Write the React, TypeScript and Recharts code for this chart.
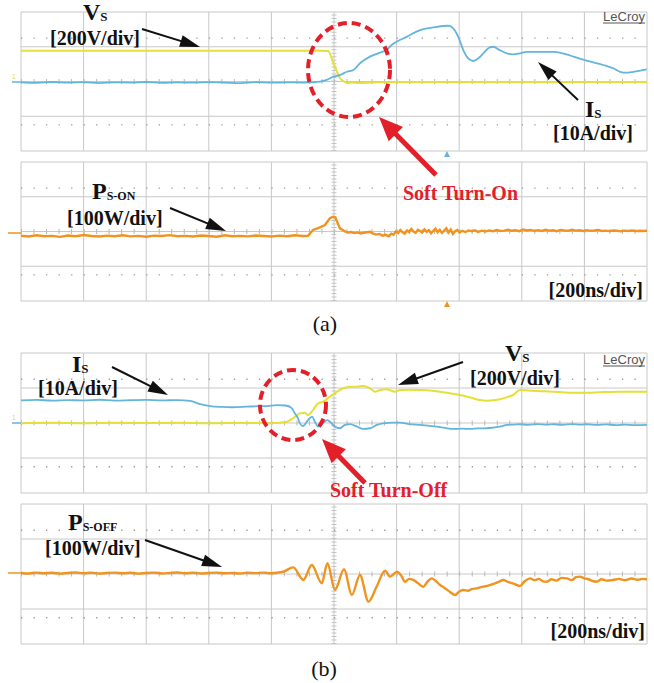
import React from 'react';
import { LineChart, Line, XAxis, YAxis, CartesianGrid, ReferenceLine } from 'recharts';

type Pt = [number, number]; // [time ns, value]

// grid divisions: 200 ns/div, 200 V/div, 10 A/div, 100 W/div
const TIME_DIVS = [0, 200, 400, 600, 800, 1000, 1200, 1400, 1600, 1800, 2000];
const VOLT_DIVS = [-800, -600, -400, -200, 0, 200, 400, 600, 800];
const AMP_DIVS = [-40, -30, -20, -10, 0, 10, 20, 30, 40];
const POWER_DIVS = [-400, -300, -200, -100, 0, 100, 200, 300, 400];

// (a) soft turn-on
const onVs: Pt[] = [
  [0, 354], [150, 353], [300, 355], [450, 354], [600, 353], [750, 355], [900, 354], [960, 354],
  [981, 350], [997, 224], [1010, 109], [1019, 40], [1030, 5], [1042, -17], [1060, -12], [1083, -17],
  [1150, -9], [1250, -6], [1400, -8], [1550, -5], [1700, -6], [1850, -7], [2000, -5],
];
const onIs: Pt[] = [
  [0, -0.5], [50, -0.8], [100, -0.3], [150, -0.7], [200, -0.4], [250, -0.9], [300, -0.5], [350, -0.6],
  [400, -0.3], [450, -0.8], [500, -0.5], [550, -0.7], [600, -0.4], [650, -0.6], [700, -0.9], [750, -0.4],
  [800, -0.7], [850, -0.5], [900, -0.6], [955, -0.1], [977, 0.9], [998, 2.8], [1019, 3.7], [1041, 5.6],
  [1062, 6.6], [1083, 10.5], [1115, 14.3], [1147, 16.6], [1168, 18.1], [1184, 21.0], [1200, 22.9],
  [1232, 25.7], [1275, 29.6], [1317, 31.1], [1365, 32.1], [1381, 30.6], [1397, 25.7], [1413, 18.1],
  [1429, 13.3], [1445, 11.8], [1461, 13.3], [1477, 16.2], [1498, 19.7], [1509, 20.0], [1525, 18.5],
  [1552, 16.2], [1573, 15.6], [1594, 16.2], [1616, 17.1], [1658, 17.1], [1701, 17.1], [1743, 15.6],
  [1765, 14.3], [1807, 12.0], [1860, 9.5], [1892, 7.6], [1914, 5.6], [1935, 5.1], [1956, 5.6],
  [1978, 6.2], [1999, 7.0],
];
const onPs: Pt[] = [
  [0, -24], [25, -29], [50, -22], [75, -27], [100, -25], [125, -31], [150, -23], [175, -27], [200, -20],
  [225, -26], [250, -29], [275, -24], [300, -27], [325, -22], [350, -28], [375, -25], [400, -30],
  [425, -24], [450, -26], [475, -21], [500, -27], [525, -25], [550, -29], [575, -23], [600, -26],
  [625, -30], [650, -22], [675, -27], [700, -25], [725, -28], [750, -23], [775, -26], [800, -29],
  [825, -24], [850, -27], [875, -22], [900, -26], [917, -25], [933, 9], [955, 24], [971, 37], [987, 76],
  [997, 85], [1004, 82], [1010, 56], [1019, 18], [1035, 0], [1045, -6], [1055, -3], [1065, -9],
  [1075, -5], [1085, -11], [1095, -7], [1105, -4], [1115, -2], [1125, -12], [1135, -18], [1145, -14],
  [1155, -24], [1165, -19], [1175, -27], [1183, -12], [1190, -18], [1198, 2], [1205, -9], [1212, 8],
  [1219, -4], [1226, -12], [1233, 6], [1240, -3], [1247, 15], [1254, 0], [1261, -8], [1268, 10],
  [1275, 3], [1282, -6], [1289, 12], [1296, -2], [1303, 7], [1310, -10], [1317, 4], [1324, 16],
  [1331, -4], [1338, 9], [1345, -8], [1352, 5], [1359, 18], [1366, -6], [1373, 11], [1380, -14],
  [1387, 2], [1394, 9], [1401, -5], [1410, 4], [1420, -3], [1430, 6], [1440, 1], [1450, 7], [1460, -2],
  [1472, 5], [1484, 0], [1496, 6], [1508, 2], [1520, 8], [1532, 3], [1544, 5], [1556, 10], [1568, 4],
  [1580, 7], [1592, 2], [1604, 12], [1616, 6], [1628, 9], [1640, 4], [1652, 8], [1664, 3], [1676, 10],
  [1688, 5], [1700, 7], [1712, 2], [1724, 9], [1736, 6], [1748, 4], [1760, 10], [1772, 5], [1784, 7],
  [1796, 3], [1808, 8], [1820, 4], [1832, 6], [1844, 9], [1856, 3], [1868, 5], [1880, 2], [1892, 6],
  [1904, 4], [1916, 1], [1928, 5], [1940, 3], [1952, 6], [1964, 2], [1976, 4], [1988, 3], [2000, 4],
];

// (b) soft turn-off
const offVs: Pt[] = [
  [0, -3], [100, 2], [200, -2], [300, 3], [400, -1], [500, 2], [600, -3], [700, 1], [800, -2], [827, 3],
  [850, 15], [869, 54], [891, 110], [907, 118], [917, 91], [933, 149], [949, 225], [965, 243],
  [987, 301], [1010, 358], [1029, 397], [1051, 415], [1074, 415], [1093, 423], [1115, 397],
  [1131, 358], [1147, 377], [1169, 385], [1195, 358], [1211, 377], [1240, 380], [1275, 377],
  [1305, 372], [1339, 358], [1370, 340], [1403, 320], [1444, 283], [1465, 262], [1489, 255],
  [1510, 260], [1530, 271], [1550, 292], [1572, 320], [1594, 377], [1620, 372], [1649, 366],
  [1675, 362], [1700, 358], [1730, 352], [1764, 346], [1808, 346], [1850, 352], [1914, 358],
  [1960, 356], [2000, 358],
];
const offIs: Pt[] = [
  [0, 12.9], [50, 13.2], [100, 12.8], [150, 13.1], [200, 12.9], [250, 13.3], [300, 12.8], [350, 13.0],
  [400, 13.2], [450, 12.9], [500, 13.1], [540, 12.7], [572, 10.8], [604, 9.7], [640, 9.2], [677, 9.0],
  [720, 9.3], [760, 9.6], [786, 9.7], [818, 10.2], [845, 10.0], [865, 8.5], [875, 5.5], [885, 2.7],
  [891, -0.2], [901, -1.7], [917, 1.7], [930, 3.6], [939, 0.7], [949, -2.1], [965, 0], [978, 1.7],
  [987, 0.7], [1003, -2.1], [1019, -3.0], [1035, -1.1], [1051, -0.6], [1074, -2.1], [1093, -3.4],
  [1115, -3.0], [1137, -1.1], [1157, -0.2], [1189, 0.2], [1211, 0.2], [1240, -0.6], [1275, -1.1],
  [1300, -1.5], [1328, -2.1], [1355, -2.8], [1380, -3.4], [1410, -3.2], [1435, -3.4], [1460, -3.1],
  [1489, -3.0], [1510, -2.6], [1530, -2.1], [1553, -1.1], [1575, -0.9], [1594, -0.7], [1620, -1.0],
  [1650, -0.6], [1680, -0.9], [1700, -0.7], [1730, -1.0], [1760, -0.6], [1790, -0.9], [1808, -0.7],
  [1840, -1.1], [1870, -0.8], [1900, -1.2], [1930, -0.9], [1960, -1.2], [2000, -1.1],
];
const offPs: Pt[] = [
  [0, 6], [25, 3], [50, 8], [75, 4], [100, 7], [125, 2], [150, 6], [175, 9], [200, 4], [225, 7], [250, 3],
  [275, 6], [300, 8], [325, 4], [350, 7], [375, 2], [400, 6], [425, 8], [450, 3], [475, 6], [500, 9],
  [525, 4], [550, 7], [575, 3], [600, 6], [625, 8], [650, 4], [675, 6], [700, 3], [725, 7], [750, 5],
  [775, 8], [800, 4], [812, 6], [838, 13], [870, 38], [902, -34], [929, 51], [961, -53], [979, 61],
  [1003, -91], [1032, 27], [1057, -120], [1083, -6], [1110, -158], [1136, -73], [1163, 19], [1179, -15],
  [1202, 13], [1215, -10], [1227, -44], [1240, -28], [1253, -34], [1268, -52], [1285, -73], [1298, -45],
  [1312, -25], [1325, -40], [1339, -63], [1352, -78], [1365, -95], [1387, -120], [1400, -100],
  [1413, -91], [1428, -96], [1442, -85], [1456, -82], [1470, -75], [1484, -70], [1498, -63], [1512, -55],
  [1526, -45], [1541, -34], [1555, -45], [1568, -52], [1580, -60], [1594, -69], [1610, -40], [1626, -25],
  [1640, -35], [1655, -28], [1668, -42], [1680, -44], [1695, -30], [1710, -38], [1727, -22], [1744, -25],
  [1760, -35], [1773, -18], [1786, -15], [1800, -25], [1813, -30], [1826, -40], [1839, -44], [1855, -30],
  [1870, -38], [1892, -34], [1910, -28], [1930, -36], [1950, -26], [1970, -33], [1985, -28], [2000, -30],
];

const YELLOW = '#e4e036';
const CYAN = '#63b5dc';
const ORANGE = '#ef9420';
const RED = '#e3202a';
const GRID = '#c8c8c8';
const SERIF = "'Liberation Serif', 'Times New Roman', serif";

const toRows = (pts: Pt[]) => pts.map(([t, y]) => ({ t, y }));

interface Trace { id: string; pts: Pt[]; color: string; axis: string; width: number; curve?: 'linear' | 'monotone' }
interface Axis { id: string; ticks: number[] }

const ScopePanel: React.FC<{ top: number; height: number; axes: Axis[]; traces: Trace[] }> = ({ top, height, axes, traces }) => {
  const grid = axes[0];
  const span = grid.ticks[grid.ticks.length - 1];
  const divPx = (height - 2) / 8;
  return (
    <div style={{ position: 'absolute', left: 20, top, width: 628, height }}>
      <LineChart width={628} height={height} margin={{ top: 1, right: 1, bottom: 1, left: 1 }}>
        <XAxis dataKey="t" type="number" domain={[0, 2000]} ticks={TIME_DIVS} hide allowDataOverflow />
        {axes.map(a => (
          <YAxis key={a.id} yAxisId={a.id} type="number" domain={[a.ticks[0], a.ticks[a.ticks.length - 1]]}
            ticks={a.ticks} hide allowDataOverflow />
        ))}
        <CartesianGrid yAxisId={grid.id} stroke={GRID} strokeWidth={1} />
        {/* dotted rows and centre-line minor ticks */}
        <ReferenceLine yAxisId={grid.id} y={span * 0.625} stroke="#999" strokeWidth={1.3} strokeDasharray="1.3 11.22" />
        <ReferenceLine yAxisId={grid.id} y={-span * 0.625} stroke="#999" strokeWidth={1.3} strokeDasharray="1.3 11.22" />
        <ReferenceLine yAxisId={grid.id} y={0} stroke="#b8b8b8" strokeWidth={5} strokeDasharray="1 11.52" />
        <ReferenceLine yAxisId={grid.id} x={1000} stroke="#c4c4c4" strokeWidth={5} strokeDasharray={`1 ${divPx / 5 - 1}`} />
        {traces.map(tr => (
          <Line key={tr.id} data={toRows(tr.pts)} dataKey="y" yAxisId={tr.axis} type={tr.curve ?? 'monotone'}
            stroke={tr.color} strokeWidth={tr.width} dot={false} activeDot={false} isAnimationActive={false} />
        ))}
      </LineChart>
    </div>
  );
};

const Arrow: React.FC<{ x1: number; y1: number; x2: number; y2: number; color: string; w: number; head: number; headW: number }> =
  ({ x1, y1, x2, y2, color, w, head, headW }) => {
    const a = Math.atan2(y2 - y1, x2 - x1);
    const bx = x2 - head * Math.cos(a);
    const by = y2 - head * Math.sin(a);
    const px = -Math.sin(a) * headW / 2;
    const py = Math.cos(a) * headW / 2;
    return (
      <g>
        <line x1={x1} y1={y1} x2={bx + Math.cos(a) * 2} y2={by + Math.sin(a) * 2} stroke={color} strokeWidth={w} />
        <polygon points={`${x2},${y2} ${bx + px},${by + py} ${bx - px},${by - py}`} fill={color} />
      </g>
    );
  };

const Sub: React.FC<{ x: number; y: number; main: string; sub: string; subSize?: number }> = ({ x, y, main, sub, subSize = 13 }) => (
  <text x={x} y={y} fontFamily={SERIF} fontWeight="bold" fontSize={24} fill="#111">
    {main}<tspan fontSize={subSize} dy={1}>{sub}</tspan>
  </text>
);

const Label: React.FC<{ x: number; y: number; text: string; anchor?: 'start' | 'end' | 'middle' }> = ({ x, y, text, anchor = 'start' }) => (
  <text x={x} y={y} fontFamily={SERIF} fontWeight="bold" fontSize={20} fill="#111" textAnchor={anchor}>{text}</text>
);

const LeCroy: React.FC<{ y: number }> = ({ y }) => (
  <g>
    <text x={645} y={y} fontFamily="'Liberation Sans', Arial, sans-serif" fontSize={13} fill="#555" textAnchor="end">LeCroy</text>
    <line x1={603} y1={y + 2} x2={645} y2={y + 2} stroke="#555" strokeWidth={1} />
  </g>
);

const Annotations: React.FC = () => (
  <svg width={654} height={683} style={{ position: 'absolute', left: 0, top: 0, pointerEvents: 'none' }}>
    {/* channel ground markers */}
    <line x1={12} y1={82} x2={21} y2={82} stroke={CYAN} strokeWidth={1.5} />
    <text x={12} y={79} fontSize={7} fill={YELLOW} fontFamily="sans-serif">1</text>
    <line x1={8} y1={233} x2={21} y2={233} stroke={ORANGE} strokeWidth={1.5} />
    <line x1={12} y1={423} x2={21} y2={423} stroke={CYAN} strokeWidth={1.5} />
    <text x={12} y={420} fontSize={7} fill={YELLOW} fontFamily="sans-serif">1</text>
    <line x1={8} y1={573} x2={21} y2={573} stroke={ORANGE} strokeWidth={1.5} />
    <polygon points="444,157 447,151 450,157" fill={CYAN} />
    <polygon points="444,307 447,301 450,307" fill={ORANGE} />

    {/* (a) */}
    <Sub x={83} y={20} main="V" sub="S" />
    <Label x={50} y={45} text="[200V/div]" />
    <Arrow x1={142} y1={29} x2={200} y2={47} color="#111" w={2} head={20} headW={12} />
    <LeCroy y={21} />
    <Sub x={585} y={117} main="I" sub="S" />
    <Label x={553} y={140} text="[10A/div]" />
    <Arrow x1={578} y1={100} x2={538} y2={62} color="#111" w={2} head={20} headW={12} />
    <ellipse cx={349} cy={70} rx={41} ry={47} fill="none" stroke={RED} strokeWidth={4} strokeDasharray="9 5" />
    <Arrow x1={436} y1={175} x2={379} y2={117} color={RED} w={5} head={24} headW={20} />
    <text x={403} y={200} fontFamily={SERIF} fontWeight="bold" fontSize={20} fill={RED}>Soft Turn-On</text>
    <Sub x={92} y={199} main="P" sub="S-ON" subSize={12} />
    <Label x={67} y={225} text="[100W/div]" />
    <Arrow x1={170} y1={208} x2={226} y2={231} color="#111" w={2} head={20} headW={12} />
    <Label x={643} y={297} text="[200ns/div]" anchor="end" />
    <text x={325} y={331} fontFamily={SERIF} fontSize={22} fill="#111" textAnchor="middle">(a)</text>

    {/* (b) */}
    <Sub x={72} y={372} main="I" sub="S" />
    <Label x={38} y={395} text="[10A/div]" />
    <Arrow x1={112} y1={367} x2={168} y2={395} color="#111" w={2} head={20} headW={12} />
    <Sub x={505} y={361} main="V" sub="S" />
    <Label x={470} y={385} text="[200V/div]" />
    <Arrow x1={463} y1={362} x2={398} y2={385} color="#111" w={2} head={20} headW={12} />
    <LeCroy y={364} />
    <ellipse cx={293} cy={405} rx={33} ry={35} fill="none" stroke={RED} strokeWidth={4} strokeDasharray="9 5" />
    <Arrow x1={365} y1={483} x2={322} y2={439} color={RED} w={5} head={24} headW={20} />
    <text x={330} y={497} fontFamily={SERIF} fontWeight="bold" fontSize={20} fill={RED}>Soft Turn-Off</text>
    <Sub x={68} y={530} main="P" sub="S-OFF" subSize={12} />
    <Label x={45} y={555} text="[100W/div]" />
    <Arrow x1={145} y1={540} x2={222} y2={567} color="#111" w={2} head={20} headW={12} />
    <Label x={645} y={638} text="[200ns/div]" anchor="end" />
    <text x={324} y={676} fontFamily={SERIF} fontSize={22} fill="#111" textAnchor="middle">(b)</text>
  </svg>
);

const voltAxis: Axis = { id: 'v', ticks: VOLT_DIVS };
const ampAxis: Axis = { id: 'i', ticks: AMP_DIVS };
const powerAxis: Axis = { id: 'p', ticks: POWER_DIVS };

const App: React.FC = () => (
  <div style={{ position: 'absolute', left: 0, top: 0, width: 654, height: 683, background: '#fff', overflow: 'hidden' }}>
    <ScopePanel top={11} height={141} axes={[voltAxis, ampAxis]} traces={[
      { id: 'vs', pts: onVs, color: YELLOW, axis: 'v', width: 2 },
      { id: 'is', pts: onIs, color: CYAN, axis: 'i', width: 1.8 },
    ]} />
    <ScopePanel top={161} height={141} axes={[powerAxis]} traces={[
      { id: 'ps', pts: onPs, color: ORANGE, axis: 'p', width: 2.4, curve: 'linear' },
    ]} />
    <ScopePanel top={352} height={142} axes={[voltAxis, ampAxis]} traces={[
      { id: 'vs', pts: offVs, color: YELLOW, axis: 'v', width: 2 },
      { id: 'is', pts: offIs, color: CYAN, axis: 'i', width: 1.8 },
    ]} />
    <ScopePanel top={503} height={142} axes={[powerAxis]} traces={[
      { id: 'ps', pts: offPs, color: ORANGE, axis: 'p', width: 2.4 },
    ]} />
    <Annotations />
  </div>
);

export default App;
